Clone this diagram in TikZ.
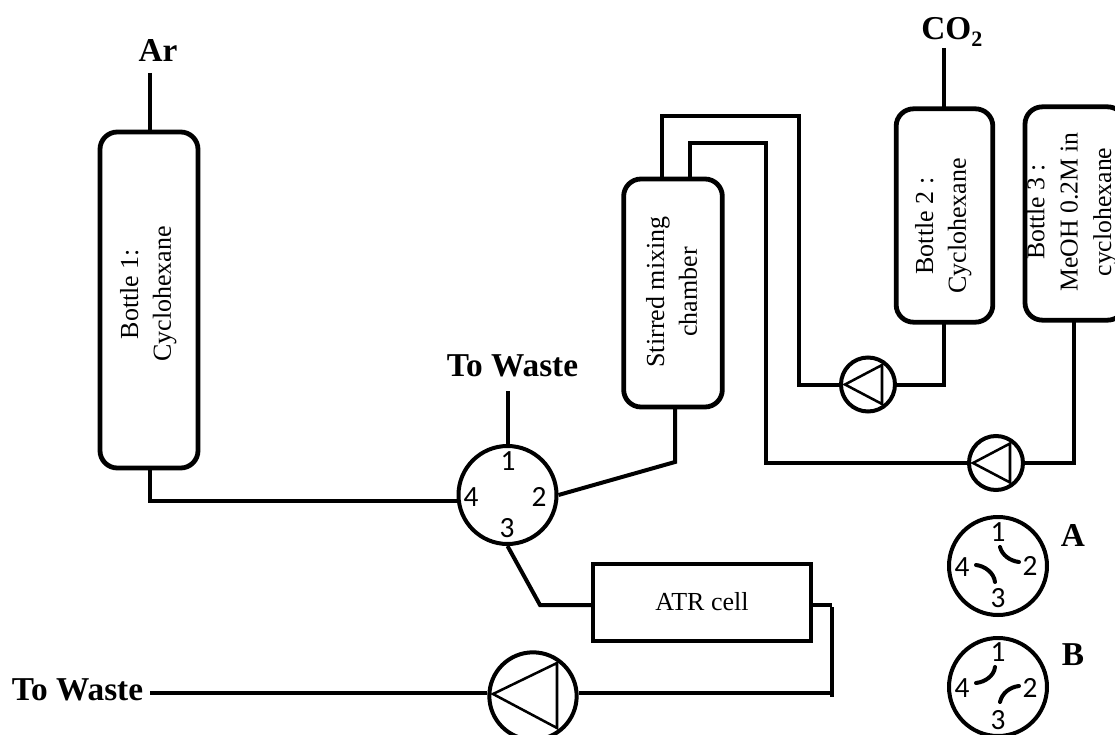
\documentclass[tikz,border=0pt]{standalone}
\usepackage{fontspec}
\setmainfont{Liberation Serif}
\newfontfamily\digitfont{Carlito}
\usetikzlibrary{calc}
\newcommand\vtext[1]{\rotatebox{90}{\begin{tabular}{@{}c@{}}#1\end{tabular}}}
\tikzset{
  x=0.75pt,y=-0.75pt,
  pipe/.style={line width=3pt,line cap=butt,line join=miter},
  vessel/.style={draw,line width=3.6pt,rounded corners=13pt,inner sep=0pt},
  vlabel/.style={inner sep=0pt,font=\fontsize{19.5}{24.5}\selectfont},
  valvebody/.style={draw,circle,line width=3pt,minimum size=73.5pt,inner sep=0pt},
  pumpbody/.style={draw,circle,line width=3pt,inner sep=0pt},
  tri/.style={line width=1.9pt,line join=miter},
  port/.style={font=\digitfont\fontsize{22}{24}\selectfont,inner sep=0pt},
  tag/.style={font=\bfseries\fontsize{25}{28}\selectfont,inner sep=0pt},
  route/.style={line width=3pt,line cap=round},
}
\begin{document}
\begin{tikzpicture}
\useasboundingbox (0,0) rectangle (1115,735);
\clip (0,0) rectangle (1115,735);
% vessels
\node[vessel,minimum width=73.5pt,minimum height=252pt] (b1) at (149,300) {};
\node[vessel,minimum width=72.5pt,minimum height=160pt] (b2) at (944.5,215.5) {};
\node[vessel,minimum width=75pt,minimum height=160pt] (b3) at (1075,213.5) {};
\node[vessel,minimum width=74pt,minimum height=171pt] (mix) at (673,293) {};
\node[vlabel] (b1t) at (148,294) {\vtext{Bottle 1:\\Cyclohexane}};
\node[vlabel] (b2t) at (943,226) {\vtext{Bottle 2 :\\Cyclohexane}};
\node[vlabel,font=\fontsize{19.3}{25}\selectfont] (b3t) at (1071,212) {\vtext{Bottle 3 :\\MeOH 0.2M in\\cyclohexane}};
\node[vlabel] (mixt) at (674,292) {\vtext{Stirred mixing\\chamber}};
\node[draw,line width=3pt,minimum width=163pt,minimum height=57.5pt,inner sep=0pt,font=\fontsize{19.5}{24}\selectfont] (atr) at (702,602.5) {\raisebox{1.5pt}{ATR cell}};
% valves
\node[valvebody] (v) at (507.5,495) {};
\node[valvebody] (va) at (998,566) {};
\node[valvebody] (vb) at (998,687) {};
% pumps
\node[pumpbody,minimum size=40.5pt] (p1) at (868,384.5) {};
\node[pumpbody,minimum size=40.5pt] (p2) at (996,463) {};
\node[pumpbody,minimum size=65.5pt] (p3) at (533,696) {};
\draw[tri] (845,384.5) -- (882,365) -- (882,404) -- cycle;
\draw[tri] (973,463) -- (1010,443.5) -- (1010,482.5) -- cycle;
\draw[tri] (493,694) -- (557,663) -- (557,728) -- cycle;
% port numbers
\node[port] (v1) at (508,461) {1};
\node[port] (v2) at (539,497) {2};
\node[port] (v3) at (507,528) {3};
\node[port] (v4) at (471,497) {4};
\node[port] (a1) at (998,532) {1};
\node[port] (a2) at (1030,566) {2};
\node[port] (a3) at (998,598) {3};
\node[port] (a4) at (962,567) {4};
\node[port] (c1) at (998,652) {1};
\node[port] (c2) at (1030,688) {2};
\node[port] (c3) at (998,720) {3};
\node[port] (c4) at (962,688) {4};
% labels
\node[tag] (ar) at (158,50) {Ar};
\node[tag,anchor=base west] (co2) at (921,40) {CO\raisebox{-5pt}{\fontsize{16.5}{16.5}\selectfont 2}};
\node[tag] (tw1) at (512.5,366) {To Waste};
\node[tag] (tw2) at (77.5,690) {To Waste};
\node[tag] (la) at (1073,535) {A};
\node[tag] (lb) at (1073,655) {B};
% free ends
\coordinate (arEnd) at (150,73);
\coordinate (coEnd) at (944,48);
\coordinate (twEnd) at (508,391);
\coordinate (twLeft) at (150,693);
% connectors
\draw[pipe] (arEnd) -- (150,132);
\draw[pipe] (coEnd) -- (944,109);
\draw[pipe] (twEnd) -- (508,445);
\draw[pipe] (150,468) |- (v.west |- 0,501);
\draw[pipe] (675,407) -- (675,462) -- (v.east);
\draw[pipe] (662,180) -- (662,116) -- (799,116) |- (p1.west);
\draw[pipe] (690,180) -- (690,143) -- (766,143) |- (p2.west);
\draw[pipe] (p1.east) -| (944,322);
\draw[pipe] (p2.east) -| (1074,320);
\draw[pipe] (v.south) -- (540,605) -- (atr.west |- 0,605);
\draw[pipe] (atr.east |- 0,605) -- (832,605);
\draw[pipe] (832,607) -- (832,697);
\draw[pipe,line width=2.6pt] (p3.east |- 0,693) -- (832,693);
\draw[pipe,line width=2.6pt] (twLeft) -- (p3.west |- 0,693);
% valve internals
\draw[route] (1000,547) .. controls (1002,555) and (1010,561) .. (1019,562);
\draw[route] (976,565) .. controls (985,566) and (994,573) .. (995,582);
\draw[route] (995,667) .. controls (994,676) and (985,682) .. (976,683);
\draw[route] (1019,686) .. controls (1010,687) and (1002,693) .. (1000,702);
\end{tikzpicture}
\end{document}
